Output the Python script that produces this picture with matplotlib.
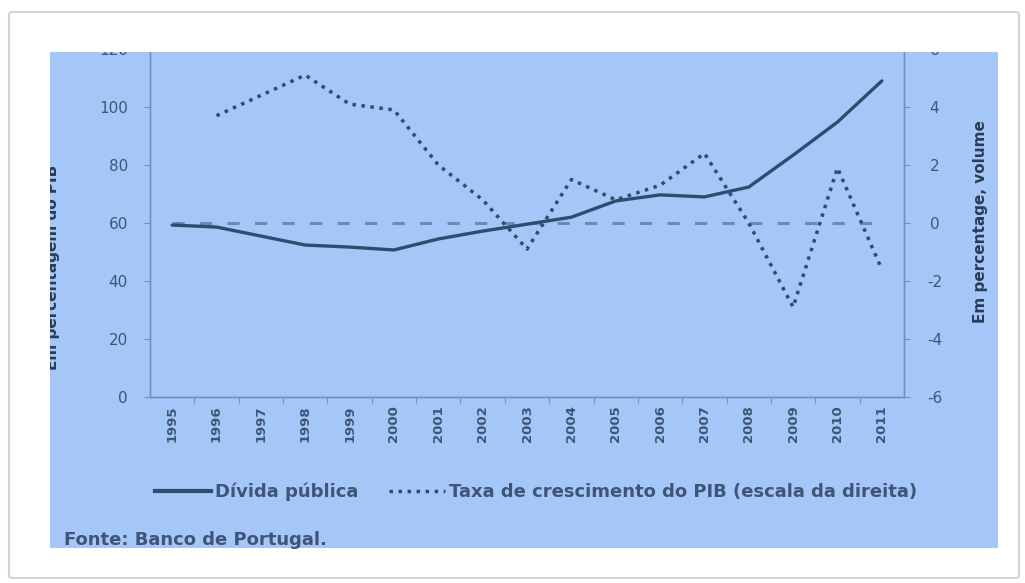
import matplotlib
import matplotlib.pyplot as plt
from matplotlib.lines import Line2D
from matplotlib.patches import Rectangle, FancyBboxPatch

matplotlib.use("Agg")

# data
years = [str(y) for y in range(1995, 2012)]
divida = [59.3, 58.6, 55.5, 52.4, 51.7, 50.7, 54.5, 57.2, 59.6,
          62.0, 67.6, 69.7, 69.0, 72.4, 83.4, 94.8, 109.0]
pib_years = years[1:]
pib = [3.7, 4.4, 5.1, 4.1, 3.9, 2.0, 0.8, -0.9,
       1.5, 0.8, 1.3, 2.4, 0.0, -2.9, 1.9, -1.6]
left_ticks = [0, 20, 40, 60, 80, 100, 120]
right_ticks = [-6, -4, -2, 0, 2, 4, 6]
ref_level = 60

W, H = 1025, 583
BG = "#a5c7f7"
LINE = "#2f4b70"
DASH = "#6e8ab2"
TXT = "#3f5578"
SPINE = "#7390b8"

plt.rcParams["font.family"] = ["DejaVu Sans"]
plt.rcParams["axes.unicode_minus"] = False


def fx(px):
    return px / W


def fy(py):
    return 1 - py / H


fig = plt.figure(figsize=(W / 100, H / 100), dpi=100)
fig.patch.set_facecolor("white")

card = FancyBboxPatch((fx(9), fy(578)), fx(1019) - fx(9), fy(12) - fy(578),
                      boxstyle="round,pad=0,rounding_size=0.004",
                      transform=fig.transFigure, facecolor="white",
                      edgecolor="#d4d4d4", linewidth=1.5, zorder=-3)
fig.add_artist(card)
panel = Rectangle((fx(50), fy(548)), fx(998) - fx(50), fy(52) - fy(548),
                  transform=fig.transFigure, facecolor=BG, edgecolor="none",
                  zorder=-2)
fig.add_artist(panel)

ax = fig.add_axes([fx(150), fy(397), fx(904) - fx(150), fy(49) - fy(397)])
ax.set_facecolor("none")
ax2 = ax.twinx()

x = list(range(len(years)))
ax.plot(x, [ref_level] * len(x), color=DASH, lw=2.2,
        linestyle=(0, (4, 5)), zorder=2)
ax.plot(x, divida, color=LINE, lw=2.4, solid_capstyle="round", zorder=3)
ax2.plot(x[1:], pib, color=LINE, lw=2.5, linestyle=(0, (1, 1.6)), zorder=3)

ax.set_xlim(-0.5, len(years) - 0.5)
ax.set_ylim(0, 120)
ax2.set_ylim(-6, 6)
ax.set_yticks(left_ticks)
ax2.set_yticks(right_ticks)

ax.set_xticks([i + 0.5 for i in range(len(years) - 1)])
ax.set_xticklabels([])
ax.set_xticks(x, minor=True)
ax.set_xticklabels(years, minor=True, rotation=90, fontsize=9.5,
                   color=TXT, fontweight="bold")
ax.tick_params(axis="x", which="major", length=4, color=SPINE)
ax.tick_params(axis="x", which="minor", length=0, pad=6)
ax.tick_params(axis="y", length=4, color=SPINE, labelsize=11,
               labelcolor=TXT, pad=12)
ax2.tick_params(axis="y", length=4, color=SPINE, labelsize=11,
                labelcolor=TXT, pad=18)
for lab in ax2.get_yticklabels():
    lab.set_horizontalalignment("center")

for a in (ax, ax2):
    a.spines["top"].set_visible(False)
    for s in ("left", "right", "bottom"):
        a.spines[s].set_color(SPINE)
        a.spines[s].set_linewidth(1.0)

# hide tick labels spilling above the panel
fig.add_artist(Rectangle((fx(50), fy(52)), fx(998) - fx(50), fy(14) - fy(52),
                         transform=fig.transFigure, facecolor="white",
                         edgecolor="none", zorder=5))

lab_l = fig.text(fx(53), fy(267), "Em percentagem do PIB", rotation=90,
                 ha="center", va="center", fontsize=11, fontweight="bold",
                 color="#2b3b55")
lab_l.set_clip_path(panel)
fig.text(fx(980), fy(222), "Em percentage, volume", rotation=90,
         ha="center", va="center", fontsize=11, fontweight="bold",
         color="#2b3b55")

handles = [
    Line2D([], [], color=LINE, lw=3),
    Line2D([], [], color=LINE, lw=2.5, linestyle=(0, (1, 1.6))),
]
fig.legend(handles, ["Dívida pública",
                     "Taxa de crescimento do PIB (escala da direita)"],
           loc="center", bbox_to_anchor=(fx(536), fy(492)), ncol=2,
           frameon=False, handlelength=3.1, handletextpad=0.2,
           columnspacing=1.7, labelcolor=TXT,
           prop={"size": 13, "weight": "bold"})

fig.text(fx(64), fy(540), "Fonte: Banco de Portugal.", ha="left",
         va="center", fontsize=13, fontweight="bold", color=TXT)

fig.savefig("out.png", dpi=100)
